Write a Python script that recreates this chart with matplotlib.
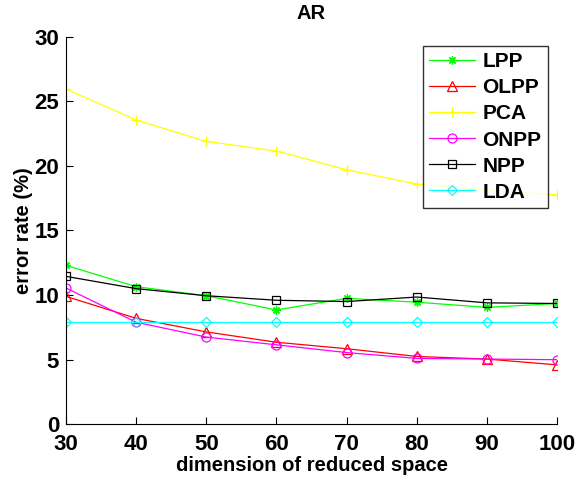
import numpy as np
import matplotlib
matplotlib.use('Agg')
import matplotlib.pyplot as plt

plt.rcParams['font.family'] = ['Liberation Sans', 'DejaVu Sans']
plt.rcParams['font.weight'] = 'bold'

dims = [30, 40, 50, 60, 70, 80, 90, 100]
lpp = [12.3, 10.65, 9.95, 8.85, 9.75, 9.45, 9.05, 9.35]
olpp = [9.9, 8.2, 7.15, 6.35, 5.85, 5.25, 5.05, 4.6]
pca = [25.95, 23.55, 21.9, 21.15, 19.7, 18.6, 18.1, 17.75]
onpp = [10.55, 7.9, 6.75, 6.15, 5.55, 5.1, 5.05, 5.0]
npp = [11.45, 10.5, 9.95, 9.6, 9.5, 9.85, 9.4, 9.35]
lda = [7.9, 7.9, 7.9, 7.9, 7.9, 7.9, 7.9, 7.9]

# name, values, colour, marker, marker size
series = [
    ('LPP', lpp, '#00ff00', (8, 2, 0), 6),
    ('OLPP', olpp, '#ff0000', '^', 6.5),
    ('PCA', pca, '#ffff00', '+', 7),
    ('ONPP', onpp, '#ff00ff', 'o', 6.5),
    ('NPP', npp, '#000000', 's', 5.5),
    ('LDA', lda, '#00ffff', 'D', 5.5),
]

fig = plt.figure(figsize=(5.75, 4.79), dpi=100)
ax = fig.add_axes([0.1148, 0.1142, 0.854, 0.8092])

for name, vals, col, mk, ms in series:
    ax.plot(dims, vals, color=col, marker=mk, markerfacecolor='none',
            markeredgecolor=col, markersize=ms, linewidth=0.9,
            markeredgewidth=0.9, label=name)

ax.set_xlim(30, 100)
ax.set_ylim(0, 30)
ax.set_xticks(dims)
ax.set_yticks([0, 5, 10, 15, 20, 25, 30])
ax.spines['top'].set_visible(False)
ax.spines['right'].set_visible(False)
ax.tick_params(direction='in', length=5, labelsize=16)
ax.tick_params(axis='x', pad=7)
ax.tick_params(axis='y', pad=5)
for lab in ax.get_xticklabels() + ax.get_yticklabels():
    lab.set_fontweight('bold')

ax.set_xlabel('dimension of reduced space', fontsize=14.5, fontweight='bold', labelpad=1)
ax.set_ylabel('error rate (%)', fontsize=14.5, fontweight='bold', labelpad=1)
ax.set_title('AR', fontsize=14.5, fontweight='bold', pad=13)

leg = ax.legend(loc='upper right', fontsize=15, frameon=True, fancybox=False,
                edgecolor='black', handlelength=2.2, borderaxespad=0.45,
                labelspacing=0.34, handletextpad=0.35, borderpad=0.3)
leg.get_frame().set_linewidth(1.0)
for t in leg.get_texts():
    t.set_fontweight('bold')

fig.savefig('out.png', dpi=100)
